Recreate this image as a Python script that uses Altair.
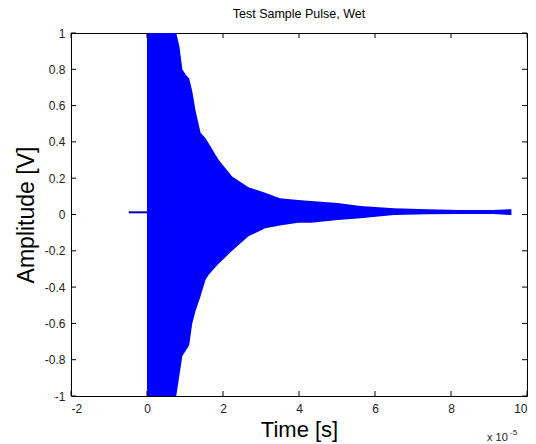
import altair as alt
import pandas as pd

# Envelope of the dense pulse signal (time in units of 1e-5 s)
time_env = [0.0, 0.63, 0.77, 0.85, 0.93, 1.02, 1.11, 1.19, 1.28, 1.41, 1.54, 1.63, 1.80, 1.89,
            2.24, 2.67, 3.11, 3.50, 3.98, 4.32, 5.02, 5.62, 6.50, 7.37, 8.24, 9.11, 9.59]
upper_env = [1.0, 1.0, 1.0, 0.93, 0.80, 0.77, 0.75, 0.68, 0.57, 0.45, 0.42, 0.39, 0.33, 0.30,
             0.21, 0.15, 0.12, 0.09, 0.08, 0.075, 0.063, 0.047, 0.034, 0.029, 0.025, 0.025, 0.029]
lower_env = [-1.0, -1.0, -1.0, -0.89, -0.78, -0.75, -0.72, -0.60, -0.53, -0.45, -0.36, -0.33, -0.29, -0.27,
             -0.20, -0.12, -0.076, -0.06, -0.045, -0.045, -0.03, -0.02, -0.003, 0.001, 0.003, 0.003, -0.003]

# Pre-trigger baseline
pre_t = [-0.48, 0.0]
pre_v = [0.012, 0.012]

x_ticks = [-2, 0, 2, 4, 6, 8, 10]
y_ticks = [-1, -0.8, -0.6, -0.4, -0.2, 0, 0.2, 0.4, 0.6, 0.8, 1]

title_text = "Test Sample Pulse, Wet"
x_title = "Time [s]"
y_title = "Amplitude [V]"
exp_base = ["x 10"]
exp_power = ["-5"]

W, H = 456, 363
FONT = "Liberation Sans"
BLUE = "#0000FF"
TICK = 5

xs = alt.Scale(domain=[-2, 10], nice=False, zero=False)
ys = alt.Scale(domain=[-1, 1], nice=False, zero=False)

label_expr = "'' + datum.value"
x_axis = alt.Axis(values=x_ticks, title=x_title, labelExpr=label_expr, labelPadding=7, titlePadding=5,
                  titleFontSize=22, domain=False, ticks=False, grid=False)
y_axis = alt.Axis(values=y_ticks, title=y_title, labelExpr=label_expr, labelPadding=6, titlePadding=6,
                  titleFontSize=23, domain=False, ticks=False, grid=False)

env = pd.DataFrame({"t": time_env, "hi": upper_env, "lo": lower_env})
pre = pd.DataFrame({"t": pre_t, "hi": pre_v})
xt = pd.DataFrame({"t": x_ticks})
yt = pd.DataFrame({"hi": y_ticks})

area = alt.Chart(env).mark_area(color=BLUE, clip=True, opacity=1).encode(
    x=alt.X("t:Q", scale=xs, axis=x_axis),
    y=alt.Y("hi:Q", scale=ys, axis=y_axis),
    y2="lo:Q",
)

pre_line = alt.Chart(pre).mark_line(color="#0000B0", strokeWidth=2).encode(
    x=alt.X("t:Q", scale=xs, axis=x_axis),
    y=alt.Y("hi:Q", scale=ys, axis=y_axis),
)

tick_bottom = alt.Chart(xt).mark_rule(color="black").encode(
    x=alt.X("t:Q", scale=xs, axis=x_axis), y=alt.value(H), y2=alt.value(H - TICK))
tick_top = alt.Chart(xt).mark_rule(color="black").encode(
    x=alt.X("t:Q", scale=xs, axis=x_axis), y=alt.value(0), y2=alt.value(TICK))
tick_left = alt.Chart(yt).mark_rule(color="black").encode(
    y=alt.Y("hi:Q", scale=ys, axis=y_axis), x=alt.value(0), x2=alt.value(TICK))
tick_right = alt.Chart(yt).mark_rule(color="black").encode(
    y=alt.Y("hi:Q", scale=ys, axis=y_axis), x=alt.value(W), x2=alt.value(W - TICK))

exp_text = alt.Chart(pd.DataFrame({"s": exp_base})).mark_text(
    align="left", baseline="alphabetic", font=FONT, fontSize=11, color="#222").encode(
    x=alt.value(W - 40), y=alt.value(H + 45), text="s:N")
exp_sup = alt.Chart(pd.DataFrame({"s": exp_power})).mark_text(
    align="left", baseline="alphabetic", font=FONT, fontSize=8, color="#222").encode(
    x=alt.value(W - 17), y=alt.value(H + 39), text="s:N")

chart = alt.layer(area, pre_line, tick_bottom, tick_top, tick_left, tick_right, exp_text, exp_sup).properties(
    width=W, height=H,
    background="white",
    title=alt.TitleParams(title_text, font=FONT, fontSize=12.5, fontWeight="normal", color="black",
                          anchor="middle", offset=7),
    autosize=alt.AutoSizeParams(type="none"),
    padding={"left": 63, "top": 25, "right": 1, "bottom": 48},
).configure_view(stroke="black", strokeWidth=1).configure_axis(
    labelFont=FONT, labelFontSize=12, labelColor="#222",
    titleFont=FONT, titleFontWeight="normal", titleColor="black",
)

chart.save("out.html", embed_options={"renderer": "svg", "actions": False})
